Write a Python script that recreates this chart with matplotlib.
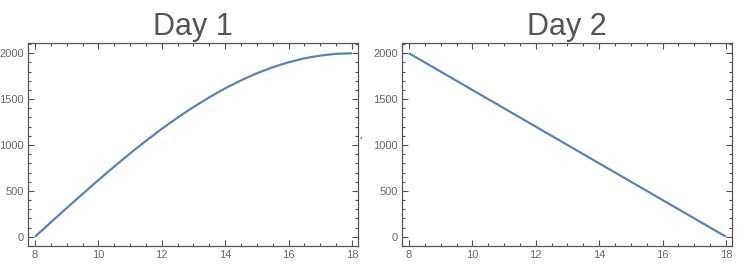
import matplotlib
matplotlib.use("Agg")
import matplotlib.pyplot as plt
from matplotlib.ticker import MultipleLocator

# Data
titles = ["Day 1", "Day 2"]
day1_hours = [8, 8.5, 9, 9.5, 10, 10.5, 11, 11.5, 12, 12.5, 13, 13.5, 14,
              14.5, 15, 15.5, 16, 16.5, 17, 17.5, 18]
day1_values = [0, 157, 313, 465, 618, 765, 908, 1045, 1176, 1299, 1414, 1520,
               1618, 1705, 1782, 1848, 1902, 1945, 1975, 1994, 2000]
day2_hours = [8, 18]
day2_values = [2000, 0]
x_ticks = [8, 10, 12, 14, 16, 18]
y_ticks = [0, 500, 1000, 1500, 2000]

plt.rcParams['font.family'] = ['Liberation Sans', 'DejaVu Sans']

W, H = 749, 274
fig = plt.figure(figsize=(W / 100, H / 100), dpi=100)

line_color = "#5E81B5"
frame_color = "#555555"
label_color = "#6a6a6a"
title_color = "#555555"

axes_px = [(28, 358), (402, 732)]
top_px, bot_px = 43, 246

series = [(day1_hours, day1_values), (day2_hours, day2_values)]

for (x0, x1), title, (xs, ys) in zip(axes_px, titles, series):
    ax = fig.add_axes([x0 / W, (H - bot_px) / H, (x1 - x0) / W, (bot_px - top_px) / H])
    ax.plot(xs, ys, color=line_color, lw=1.6, solid_capstyle='butt')
    ax.set_xlim(7.78, 18.19)
    ax.set_ylim(-101, 2112)
    ax.set_xticks(x_ticks)
    ax.set_yticks(y_ticks)
    ax.xaxis.set_minor_locator(MultipleLocator(0.5))
    ax.yaxis.set_minor_locator(MultipleLocator(100))
    ax.tick_params(which='both', direction='in', top=True, right=True,
                   color=frame_color, width=0.8)
    ax.tick_params(which='major', length=4, labelsize=8, labelcolor=label_color, pad=3)
    ax.tick_params(which='minor', length=2.3)
    for s in ax.spines.values():
        s.set_color(frame_color)
        s.set_linewidth(0.9)
    cx = (x0 + x1) / 2 / W
    fig.text(cx, (H - 35) / H, title, ha='center', va='baseline',
             fontsize=22, color=title_color)

fig.text(362 / W, (H - 136) / H, ",", ha='center', va='center',
         fontsize=9, color="#333333", style='italic')

fig.savefig("out.png", dpi=100)
